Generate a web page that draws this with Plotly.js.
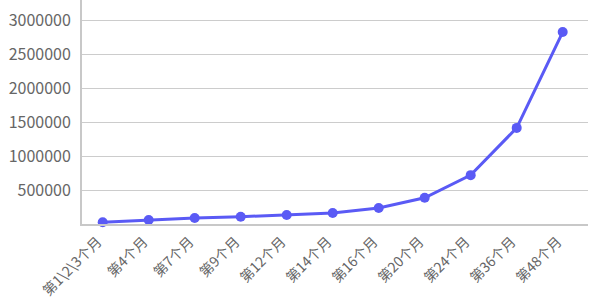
<!DOCTYPE html>
<html><head><meta charset="utf-8">
<script src="https://cdn.plot.ly/plotly-3.0.1.min.js"></script>
<style>html,body{margin:0;padding:0;background:#fff}#c{width:600px;height:300px}</style>
</head><body><div id="c"></div>
<script>
const categories = ["第1\\2\\3个月","第4个月","第7个月","第9个月","第12个月","第14个月","第16个月","第20个月","第24个月","第36个月","第48个月"];
const values = [25000, 59000, 88000, 107000, 132000, 162000, 235000, 387000, 720000, 1416000, 2828000];
const yTicks = [500000, 1000000, 1500000, 2000000, 2500000, 3000000];

Plotly.newPlot('c', [{
  x: categories, y: values, type: 'scatter', mode: 'lines+markers',
  line: {color: '#5a5af5', width: 3},
  marker: {color: '#5a5af5', size: 10},
  cliponaxis: false, hoverinfo: 'none'
}], {
  width: 600, height: 300,
  margin: {l: 82, r: 12, t: 0, b: 76},
  paper_bgcolor: '#fff', plot_bgcolor: '#fff',
  font: {family: '"Noto Sans CJK SC", "Noto Sans", sans-serif', color: '#666'},
  showlegend: false,
  xaxis: {
    type: 'category', range: [-0.45, 10.55], automargin: false,
    tickangle: -45, tickfont: {size: 14, color: '#666'},
    ticklabelshift: -5, ticklabelstandoff: 2,
    showgrid: false, showline: true, linecolor: '#c8c8c8', linewidth: 2,
    ticks: '', zeroline: false
  },
  yaxis: {
    range: [0, 3300000], automargin: false,
    tickvals: yTicks, ticktext: yTicks.map(String),
    tickfont: {size: 16, color: '#666'},
    showgrid: true, gridcolor: '#cccccc', gridwidth: 1,
    showline: true, linecolor: '#c8c8c8', linewidth: 2,
    ticks: '', ticklabelstandoff: 6,
    zeroline: false
  }
}, {staticPlot: true});
</script></body></html>
